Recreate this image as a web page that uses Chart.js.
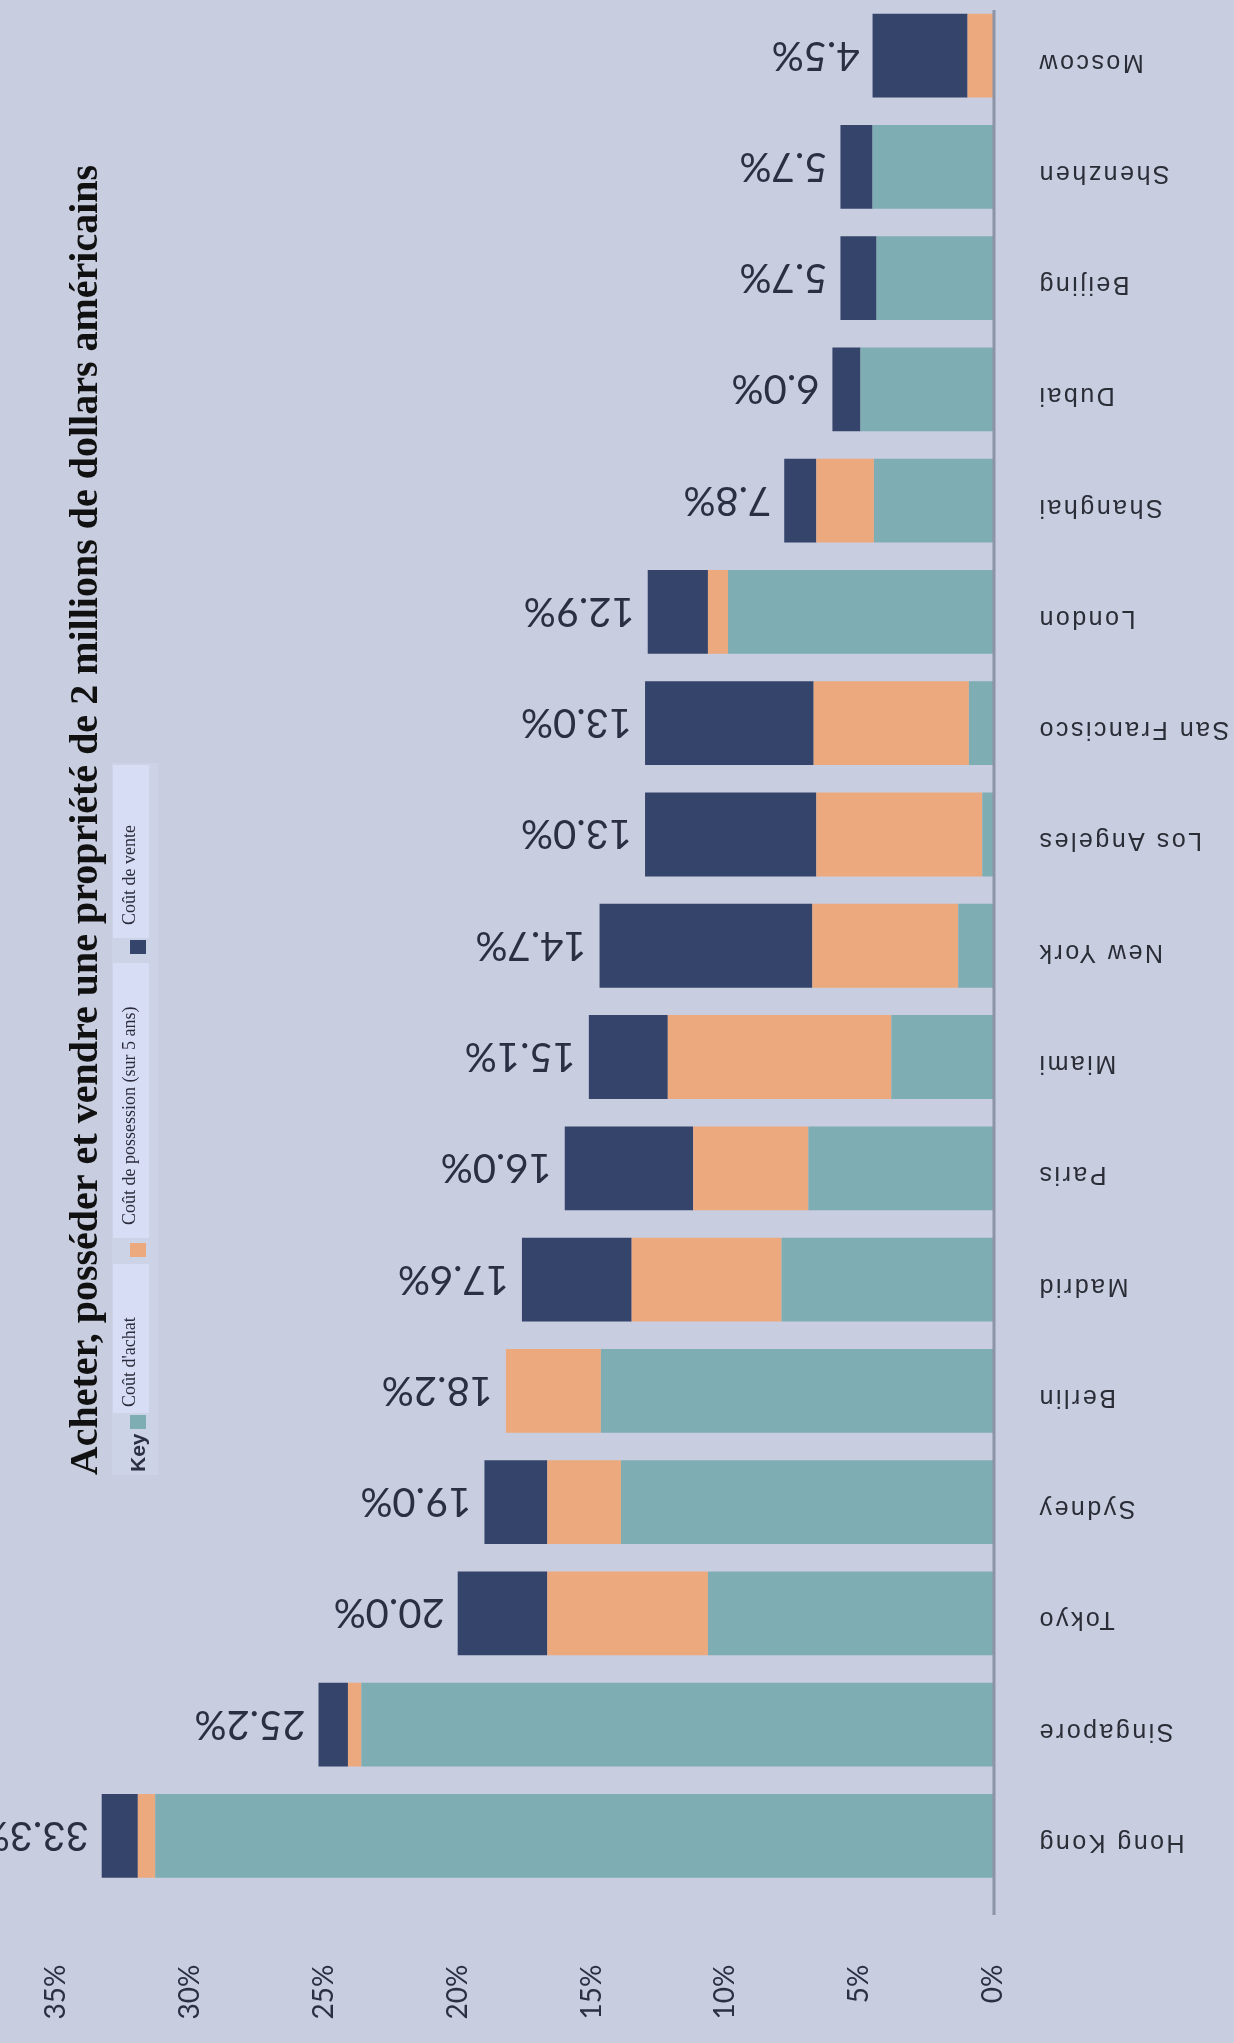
<!DOCTYPE html>
<html lang="fr">
<head>
<meta charset="utf-8">
<title>Acheter, posséder et vendre une propriété</title>
<script src="https://cdn.jsdelivr.net/npm/chart.js@4.4.1/dist/chart.umd.min.js"></script>
<style>
  html, body { margin: 0; padding: 0; background: #c8cde0; }
  #chart { display: block; }
</style>
</head>
<body>
<canvas id="chart" width="1234" height="2043"></canvas>
<script>
// data, top bar first (values in % of the property price)
const CITIES = ['Moscow', 'Shenzhen', 'Beijing', 'Dubai', 'Shanghai', 'London', 'San Francisco',
  'Los Angeles', 'New York', 'Miami', 'Paris', 'Madrid', 'Berlin', 'Sydney', 'Tokyo', 'Singapore', 'Hong Kong'];
const BUY_COST  = [0, 4.5, 4.35, 4.95, 4.45, 9.9, 0.9, 0.4, 1.3, 3.8, 6.9, 7.9, 14.65, 13.9, 10.65, 23.6, 31.3];
const OWN_COST  = [0.95, 0, 0, 0, 2.15, 0.75, 5.8, 6.2, 5.45, 8.35, 4.3, 5.6, 3.55, 2.75, 6.0, 0.5, 0.65];
const SELL_COST = [3.55, 1.2, 1.35, 1.05, 1.2, 2.25, 6.3, 6.4, 7.95, 2.95, 4.8, 4.1, 0, 2.35, 3.35, 1.1, 1.35];
const TOTAL_LABELS = ['4.5%', '5.7%', '5.7%', '6.0%', '7.8%', '12.9%', '13.0%', '13.0%', '14.7%',
  '15.1%', '16.0%', '17.6%', '18.2%', '19.0%', '20.0%', '25.2%', '33.3%'];
const TICK_VALUES = [0, 5, 10, 15, 20, 25, 30, 35];
const SERIES_NAMES = ["Coût d'achat", 'Coût de possession (sur 5 ans)', 'Coût de vente'];
const TITLE = 'Acheter, posséder et vendre une propriété de 2 millions de dollars américains';

const COLORS = ['#7eadb3', '#eca97d', '#35446a'];
const TEXT = '#2b2f42';

function rotText(ctx, text, x, y, angle, align, font, color, dy, spacing) {
  ctx.save();
  ctx.translate(x, y);
  ctx.rotate(angle);
  ctx.font = font;
  ctx.fillStyle = color;
  ctx.textAlign = align;
  ctx.textBaseline = 'alphabetic';
  if (spacing) ctx.letterSpacing = spacing;
  ctx.fillText(text, 0, dy || 0);
  ctx.restore();
}

/* ── legend (rotated, reads bottom to top) ── */
const LEGEND_ITEMS = [
  { box: [765, 938], textY: 925, swatch: 940 },   // vente
  { box: [963, 1238], textY: 1225, swatch: 1243 }, // possession
  { box: [1264, 1413], textY: 1407, swatch: 1415 }, // achat
];

const overlay = {
  id: 'overlay',
  afterDatasetsDraw(chart) {
    const ctx = chart.ctx;
    const xs = chart.scales.x;
    const ys = chart.scales.y;

    // zero line
    const x0 = xs.getPixelForValue(0);
    ctx.save();
    ctx.strokeStyle = '#8c94a6';
    ctx.lineWidth = 3;
    ctx.beginPath();
    ctx.moveTo(x0 + 1, 10);
    ctx.lineTo(x0 + 1, 1915);
    ctx.stroke();
    ctx.restore();

    // totals, upside down, past the end of each stack
    const last = chart.getDatasetMeta(2);
    last.data.forEach((bar, i) => {
      rotText(ctx, TOTAL_LABELS[i], bar.x - 13, bar.y, Math.PI, 'left', '40px Lato', TEXT, 14);
    });

    // city names, upside down, right of the axis
    CITIES.forEach((name, i) => {
      const y = ys.getPixelForValue(i);
      rotText(ctx, name, x0 + 44, y + 8, Math.PI, 'right', '25px "Liberation Sans"', '#2a2c36', 9, '2.5px');
    });

    // title
    rotText(ctx, TITLE, 97, 820, -Math.PI / 2, 'center', 'bold 40px "Liberation Serif"', '#111111', 0);

    // legend
    ctx.save();
    ctx.fillStyle = '#ccd3e6';
    ctx.fillRect(112, 763, 46, 712);
    LEGEND_ITEMS.forEach((it, k) => {
      const ds = 2 - k;
      ctx.fillStyle = '#d6ddf5';
      ctx.fillRect(113, it.box[0], 36, it.box[1] - it.box[0]);
      ctx.fillStyle = COLORS[ds];
      ctx.fillRect(130, it.swatch, 16, 14);
      rotText(ctx, SERIES_NAMES[ds], 135, it.textY, -Math.PI / 2, 'left', '18px "Liberation Serif"', '#2b2b3b', 0);
    });
    ctx.restore();
    rotText(ctx, 'Key', 145, 1472, -Math.PI / 2, 'left', 'bold 21px "Liberation Sans"', '#2b2f42', 0);
  },
};

new Chart(document.getElementById('chart'), {
  type: 'bar',
  data: {
    labels: CITIES,
    datasets: [
      { label: SERIES_NAMES[0], data: BUY_COST,  backgroundColor: COLORS[0] },
      { label: SERIES_NAMES[1], data: OWN_COST,  backgroundColor: COLORS[1] },
      { label: SERIES_NAMES[2], data: SELL_COST, backgroundColor: COLORS[2] },
    ],
  },
  options: {
    indexAxis: 'y',
    responsive: false,
    animation: false,
    layout: { padding: { top: -4, right: 241, bottom: 0, left: 0 } },
    datasets: { bar: { barPercentage: 0.753, categoryPercentage: 1, borderWidth: 0 } },
    plugins: {
      legend: { display: false },
      title: { display: false },
      tooltip: { enabled: false },
    },
    scales: {
      x: {
        stacked: true,
        reverse: true,
        min: 0,
        max: 37.1,
        grid: { display: false, drawTicks: false },
        border: { display: false },
        afterBuildTicks: s => { s.ticks = TICK_VALUES.map(v => ({ value: v })); },
        afterFit: s => { s.height = 151.5; },
        ticks: {
          autoSkip: false,
          minRotation: 90,
          maxRotation: 90,
          padding: 73,
          color: TEXT,
          font: { family: 'Lato', size: 28 },
          callback: v => v + '%',
        },
      },
      y: { stacked: true, display: false },
    },
  },
  plugins: [overlay],
});
</script>
</body>
</html>
